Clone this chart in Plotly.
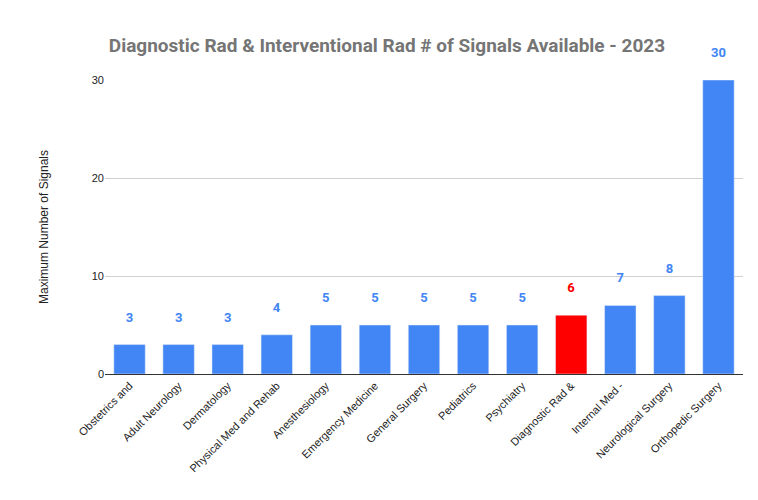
import plotly.graph_objects as go

specialties = [
    "Obstetrics and", "Adult Neurology", "Dermatology", "Physical Med and Rehab",
    "Anesthesiology", "Emergency Medicine", "General Surgery", "Pediatrics",
    "Psychiatry", "Diagnostic Rad &", "Internal Med -", "Neurological Surgery",
    "Orthopedic Surgery",
]
max_signals = [3, 3, 3, 4, 5, 5, 5, 5, 5, 6, 7, 8, 30]
highlight = "Diagnostic Rad &"

blue = "#4285f4"
red = "#ff0000"
colors = [red if s == highlight else blue for s in specialties]

fig = go.Figure(
    go.Bar(
        x=specialties,
        y=max_signals,
        marker_color=colors,
        # blank second line lifts the label clear of the bar top
        text=[f"<b>{v}</b><br> " for v in max_signals],
        textposition="outside",
        textfont=dict(color=colors, size=13, family="Roboto"),
        cliponaxis=False,
    )
)

fig.update_layout(
    width=758,
    height=500,
    margin=dict(l=97, r=23, t=72, b=134, autoexpand=False),
    plot_bgcolor="white",
    paper_bgcolor="white",
    font=dict(family="Liberation Sans", color="#222"),
    bargap=0.36,
    showlegend=False,
    title=dict(
        text="<b>Diagnostic Rad & Interventional Rad # of Signals Available - 2023</b>",
        x=0.5, xanchor="center", y=0.925, yanchor="middle",
        font=dict(size=19, color="#757575", family="Roboto"),
    ),
)
fig.update_xaxes(tickangle=-45, tickfont=dict(size=11), showline=True,
                 linecolor="#333", ticks="", automargin=False)
fig.update_yaxes(range=[0, 30], tickvals=[0, 10, 20, 30], gridcolor="#d0d0d0",
                 zeroline=False, tickfont=dict(size=11), automargin=False,
                 title=dict(text="Maximum Number of Signals", font=dict(size=12),
                            standoff=40))

fig.write_html("out.html")
